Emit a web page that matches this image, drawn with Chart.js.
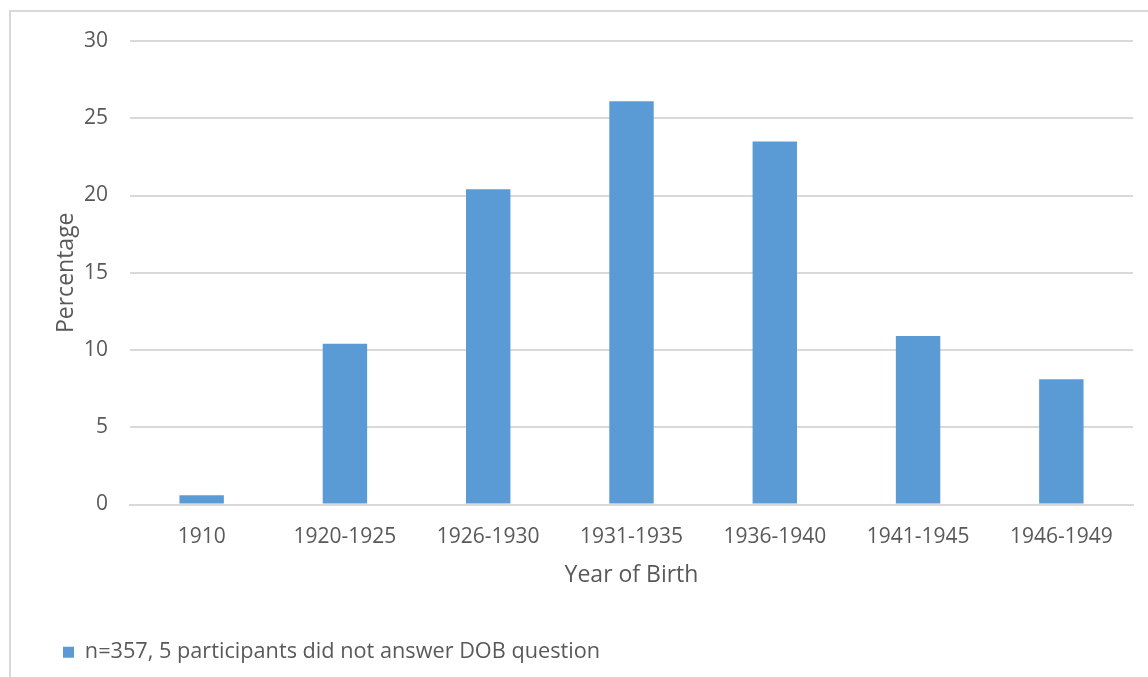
<!DOCTYPE html>
<html>
<head>
<meta charset="utf-8">
<script src="https://cdn.jsdelivr.net/npm/chart.js@4/dist/chart.umd.min.js"></script>
<style>
  body { margin: 0; background: #fff; }
  #frame { position: absolute; left: 9px; top: 10px; width: 1150px; height: 680px; border: 2px solid #d9d9d9; box-sizing: border-box; }
  #wrap { position: absolute; left: 0; top: 0; width: 1148px; height: 677px; }
</style>
</head>
<body>
<div id="frame"></div>
<div id="wrap"><canvas id="barChart"></canvas></div>
<script>
const categories = ['1910', '1920-1925', '1926-1930', '1931-1935', '1936-1940', '1941-1945', '1946-1949'];
const percentages = [0.6, 10.4, 20.4, 26.1, 23.5, 10.9, 8.1];
const seriesLabel = 'n=357, 5 participants did not answer DOB question';
const textColor = '#595959';
const fontFamily = '"Open Sans", sans-serif';

const ctx = document.getElementById('barChart').getContext('2d');
new Chart(ctx, {
  type: 'bar',
  data: {
    labels: categories,
    datasets: [{
      label: seriesLabel,
      data: percentages,
      backgroundColor: '#5b9bd5',
      borderWidth: 0,
      barPercentage: 0.31,
      categoryPercentage: 1
    }]
  },
  options: {
    responsive: true,
    maintainAspectRatio: false,
    animation: false,
    layout: { padding: { left: 53, top: 41, right: 15, bottom: 4 } },
    scales: {
      x: {
        grid: { display: false },
        border: { color: '#d9d9d9', width: 2 },
        ticks: { color: textColor, font: { family: fontFamily, size: 21 }, padding: 12, maxRotation: 0 },
        title: { display: true, text: 'Year of Birth', color: textColor, font: { family: fontFamily, size: 23 }, padding: { top: 0, bottom: 42 } }
      },
      y: {
        min: 0,
        max: 30,
        afterFit: (scale) => { scale.width = 77; },
        grid: { color: '#d9d9d9', lineWidth: 2, drawTicks: false },
        border: { display: false },
        ticks: { stepSize: 5, color: textColor, font: { family: fontFamily, size: 21 }, padding: 22 },
        title: { display: true, text: 'Percentage', color: textColor, font: { family: fontFamily, size: 23 }, padding: 0 }
      }
    },
    plugins: {
      legend: {
        position: 'bottom',
        align: 'start',
        labels: { color: textColor, font: { family: fontFamily, size: 21.7 }, boxWidth: 11, boxHeight: 11, padding: 10 }
      },
      tooltip: { enabled: false }
    }
  }
});
</script>
</body>
</html>
